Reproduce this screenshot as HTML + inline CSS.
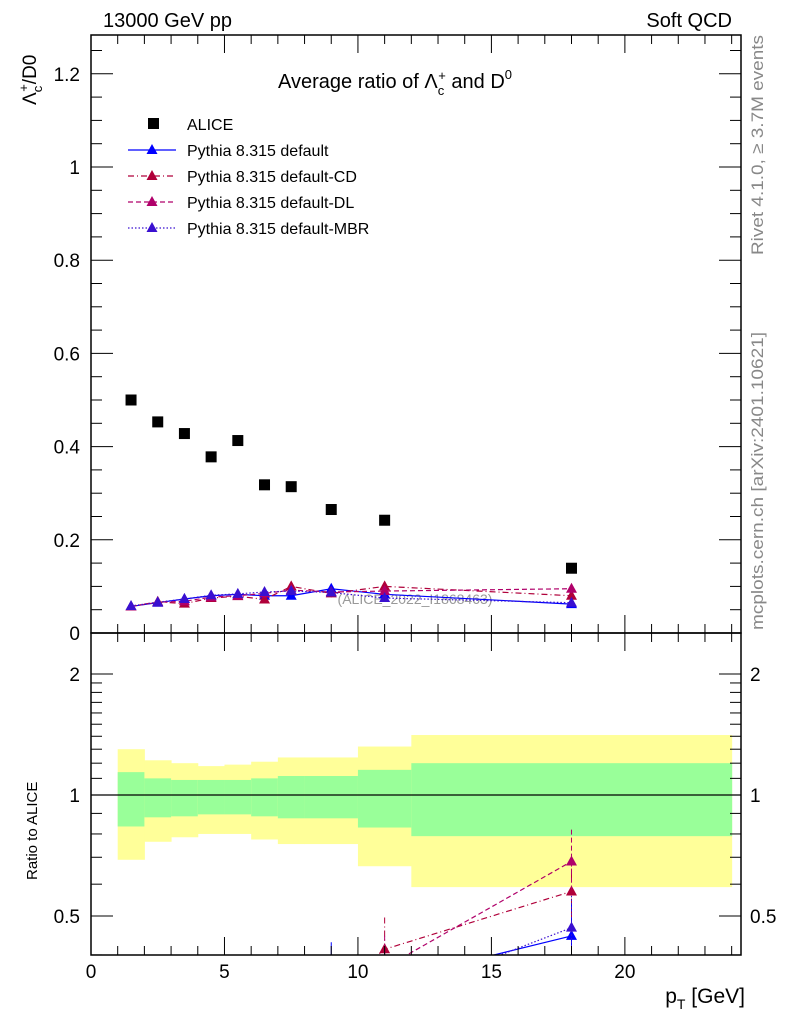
<!DOCTYPE html>
<html><head><meta charset="utf-8"><style>
html,body{margin:0;background:#fff;overflow:hidden}
svg{display:block}
svg text{font-family:"Liberation Sans",sans-serif}
</style></head><body>
<svg id="c" width="786" height="1024" xmlns="http://www.w3.org/2000/svg"></svg>
<script>
const bins=[1,2,3,4,5,6,7,8,10,12,24];
const yelHi=[1.30,1.22,1.20,1.18,1.19,1.21,1.24,1.24,1.32,1.41];
const grnHi=[1.14,1.10,1.09,1.09,1.09,1.10,1.115,1.115,1.155,1.20];
const grnLo=[0.835,0.88,0.885,0.895,0.895,0.885,0.875,0.875,0.83,0.79];
const yelLo=[0.69,0.765,0.785,0.80,0.80,0.775,0.755,0.755,0.665,0.59];
const xs=[1.5,2.5,3.5,4.5,5.5,6.5,7.5,9,11,18];
const alice=[0.50,0.453,0.428,0.378,0.413,0.318,0.314,0.265,0.242,0.139];
const pDef=[0.057,0.065,0.073,0.080,0.083,0.080,0.080,0.095,0.083,0.062];
const pCD=[0.057,0.067,0.063,0.075,0.079,0.072,0.100,0.085,0.100,0.080];
const pDL=[0.057,0.066,0.068,0.077,0.080,0.085,0.092,0.088,0.090,0.095];
const pMBR=[0.058,0.066,0.073,0.081,0.084,0.088,0.090,0.087,0.075,0.065];
const yTicks=[0,0.2,0.4,0.6,0.8,1,1.2];
const xTicks=[0,5,10,15,20];
const rTicks=[0.5,1,2];

const L=91,R=741,T=35,M=633,B=955;
const X=v=>L+v*(R-L)/24.35;
const Y=v=>M-v*466;
const RY=v=>795-Math.log2(v)*121;
const S=document.getElementById('c');
const NS='http://www.w3.org/2000/svg';
function el(t,a,p){const e=document.createElementNS(NS,t);for(const k in a)e.setAttribute(k,a[k]);(p||S).appendChild(e);return e;}
function txt(s,a,n){const e=el('text',a);e.textContent=s;return e;}

const clipR=el('clipPath',{id:'cr'});el('rect',{x:L,y:M,width:R-L,height:B-M},clipR);
const clipM=el('clipPath',{id:'cm'});el('rect',{x:L,y:T,width:R-L,height:M-T},clipM);
const gb=el('g',{'clip-path':'url(#cr)'});

for(let i=0;i<bins.length-1;i++){
  const x0=X(bins[i]),w=X(bins[i+1])-x0;
  const y1=el('rect',{x:x0,y:RY(yelHi[i]),width:w+0.5,height:RY(yelLo[i])-RY(yelHi[i]),fill:'#ffff99'},gb);
  
  const g1=el('rect',{x:x0,y:RY(grnHi[i]),width:w+0.5,height:RY(grnLo[i])-RY(grnHi[i]),fill:'#99ff99'},gb);
  
}
el('line',{x1:L,x2:R,y1:RY(1),y2:RY(1),stroke:'#000','stroke-width':1.2});

txt('(ALICE_2022_I1868463)',{x:415,y:604,'font-size':14,fill:'#999','text-anchor':'middle'},'watermark');

const series=[
 {d:pDef,c:'#0000ff',da:'',n:'default'},
 {d:pCD,c:'#b0003a',da:'6 3 1 3',n:'cd'},
 {d:pDL,c:'#b0006a',da:'5 3',n:'dl'},
 {d:pMBR,c:'#3a10d0',da:'1.5 2',n:'mbr'}];
function tri(g,x,y,c,n){const p=el('path',{d:`M${x} ${y-6}L${x+5.5} ${y+4}L${x-5.5} ${y+4}Z`,fill:c},g);}
series.forEach(s=>{
  const g=el('g',{'clip-path':'url(#cm)'});
  
  el('polyline',{points:s.d.map((v,i)=>X(xs[i])+','+Y(v)).join(' '),fill:'none',stroke:s.c,'stroke-width':1.2,'stroke-dasharray':s.da},g);
  s.d.forEach((v,i)=>{el('line',{x1:X(xs[i]),x2:X(xs[i]),y1:Y(v*1.1),y2:Y(v*0.9),stroke:s.c},g);tri(g,X(xs[i]),Y(v),s.c,'point-'+s.n);});
  const gr=el('g',{'clip-path':'url(#cr)'});
  
  const rv=s.d.map((v,i)=>v/alice[i]);
  el('polyline',{points:rv.map((v,i)=>X(xs[i])+','+RY(v)).join(' '),fill:'none',stroke:s.c,'stroke-width':1.2,'stroke-dasharray':s.da},gr);
  rv.forEach((v,i)=>{el('line',{x1:X(xs[i]),x2:X(xs[i]),y1:RY(v*1.2),y2:RY(v*0.85),stroke:s.c,'stroke-dasharray':s.da},gr);tri(gr,X(xs[i]),RY(v),s.c,'ratio-point-'+s.n);});
});
alice.forEach((v,i)=>{const r=el('rect',{x:X(xs[i])-5.5,y:Y(v)-5.5,width:11,height:11,fill:'#000'});});

el('rect',{x:L,y:T,width:R-L,height:M-T,fill:'none',stroke:'#000','stroke-width':1.5});
el('rect',{x:L,y:M,width:R-L,height:B-M,fill:'none',stroke:'#000','stroke-width':1.5});
const tk={stroke:'#000','stroke-width':1};
for(let v=0;v<=24;v++){const big=v%5==0,l=big?18:9;const x=X(v);
  [[T,1],[M,1],[M,-1],[B,-1]].forEach(([y,d])=>el('line',Object.assign({x1:x,x2:x,y1:y,y2:y+d*l},tk)));}
xTicks.forEach(v=>txt(String(v),{x:X(v),y:978,'font-size':19,'text-anchor':'middle'},'x-tick-label'));
for(let k=0;k<=25;k++){const v=k*0.05;const y=Y(v);if(y<T)break;const big=k%4==0,l=big?22:11;
  el('line',Object.assign({x1:L,x2:L+l,y1:y,y2:y},tk));el('line',Object.assign({x1:R,x2:R-l,y1:y,y2:y},tk));}
yTicks.forEach(v=>txt(v===0?'0':String(v),{x:80,y:Y(v)+7,'font-size':19,'text-anchor':'end'},'y-tick-label'));
const rMin=[0.4,0.6,0.7,0.8,0.9,1.1,1.2,1.3,1.4,1.5,1.6,1.7,1.8,1.9];
rMin.forEach(v=>{const y=RY(v);el('line',Object.assign({x1:L,x2:L+11,y1:y,y2:y},tk));el('line',Object.assign({x1:R,x2:R-11,y1:y,y2:y},tk));});
rTicks.forEach(v=>{const y=RY(v);el('line',Object.assign({x1:L,x2:L+22,y1:y,y2:y},tk));el('line',Object.assign({x1:R,x2:R-22,y1:y,y2:y},tk));
  txt(String(v),{x:80,y:y+7,'font-size':19,'text-anchor':'end'},'ratio-tick-label');
  txt(String(v),{x:750,y:y+7,'font-size':19},'ratio-tick-label-right');});

txt('13000 GeV pp',{x:103,y:27,'font-size':20},'energy-label');
txt('Soft QCD',{x:732,y:27,'font-size':20,'text-anchor':'end'},'process-label');
const tt=txt('',{x:278,y:88,'font-size':20},'plot-title');
tt.innerHTML='Average ratio of Λ<tspan font-size="13" dy="7">c</tspan><tspan font-size="13" dx="-6" dy="-15">+</tspan><tspan dy="8"> and D</tspan><tspan font-size="13" dy="-9">0</tspan>';
const yl=txt('',{transform:'translate(36,105) rotate(-90)','font-size':19},'y-axis-title');
yl.innerHTML='Λ<tspan font-size="13" dy="6">c</tspan><tspan font-size="13" dx="-6" dy="-14">+</tspan><tspan dy="8">/D0</tspan>';
txt('Ratio to ALICE',{transform:'translate(37,880) rotate(-90)','font-size':15},'ratio-axis-title');
const xl=txt('',{x:745,y:1003,'font-size':21,'text-anchor':'end'},'x-axis-title');
xl.innerHTML='p<tspan font-size="14" dy="6">T</tspan><tspan dy="-6"> [GeV]</tspan>';
txt('Rivet 4.1.0, ≥ 3.7M events',{transform:'translate(763,255) rotate(-90)','font-size':17,fill:'#888',textLength:220,lengthAdjust:'spacingAndGlyphs'},'rivet-label');
txt('mcplots.cern.ch [arXiv:2401.10621]',{transform:'translate(763,630) rotate(-90)','font-size':17,fill:'#888',textLength:298,lengthAdjust:'spacingAndGlyphs'},'mcplots-label');

const lg=el('g',{});
const lr=el('rect',{x:148,y:118,width:11,height:11,fill:'#000'},lg);
txt('ALICE',{x:187,y:130,'font-size':16},'legend-entry-alice');
const names=['Pythia 8.315 default','Pythia 8.315 default-CD','Pythia 8.315 default-DL','Pythia 8.315 default-MBR'];
series.forEach((s,i)=>{const y=150+i*26;
  el('line',{x1:128,x2:176,y1:y,y2:y,stroke:s.c,'stroke-width':1.2,'stroke-dasharray':s.da},lg);
  tri(lg,152,y,s.c,'legend-marker-'+s.n);
  txt(names[i],{x:187,y:y+6,'font-size':16},'legend-entry-'+s.n);});
</script>
</body></html>
